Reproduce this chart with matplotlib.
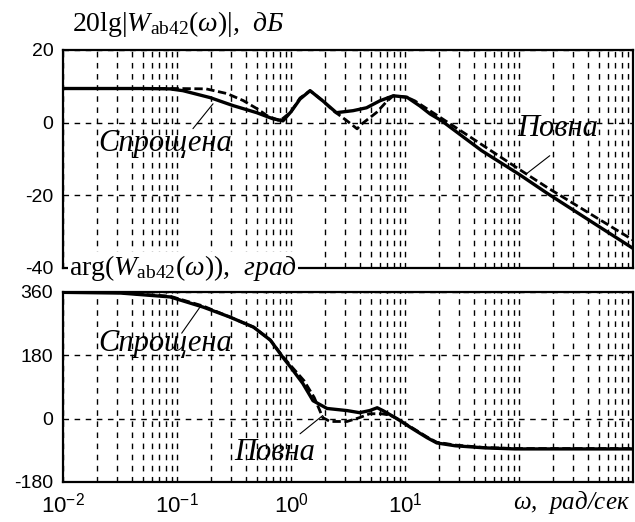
import matplotlib
matplotlib.use("Agg")
import matplotlib.pyplot as plt
from matplotlib.ticker import LogLocator, NullFormatter, FixedLocator

plt.rcParams['mathtext.fontset'] = 'custom'
plt.rcParams['mathtext.rm'] = 'Liberation Serif'
plt.rcParams['mathtext.it'] = 'Liberation Serif:italic'
plt.rcParams['mathtext.sf'] = 'Liberation Sans'
plt.rcParams['axes.unicode_minus'] = False

# amplitude, full model (solid)
w_mag_full = [0.01, 0.05, 0.087, 0.113, 0.195, 0.31, 0.5, 0.69, 0.85, 1.0, 1.2, 1.47,
              1.9, 2.5, 3.5, 4.6, 6.0, 7.9, 10.4, 13.5, 16.6, 21, 47, 100, 178, 1000]
db_full = [9.4, 9.4, 9.3, 8.8, 6.9, 4.7, 2.75, 1.1, 0.5, 3.0, 6.5, 8.8,
           6.0, 2.75, 3.3, 4.1, 6.0, 7.4, 7.0, 4.6, 2.4, 0.5, -7.7, -14.2, -19.5, -34.6]

# amplitude, simplified model (dashed)
w_mag_simp = [0.01, 0.05, 0.1, 0.18, 0.275, 0.38, 0.5, 0.62, 0.8, 1.0, 1.2, 1.47,
              1.9, 2.35, 3.1, 3.8, 4.2, 5.6, 7.0, 7.9, 10.4, 12.2, 33.6, 100, 178, 1000]
db_simp = [9.4, 9.4, 9.4, 9.3, 8.0, 6.1, 3.9, 1.9, 0.5, 3.0, 6.8, 8.8,
           6.0, 3.3, 0.5, -1.7, -0.3, 2.75, 6.0, 7.4, 7.0, 6.0, -3.0, -12.8, -17.9, -32.3]

# phase, full model (solid)
w_ph_full = [0.01, 0.032, 0.087, 0.17, 0.29, 0.47, 0.66, 0.85, 1.0, 1.27, 1.56, 2.07,
             3.1, 4.0, 4.9, 5.7, 6.4, 8.5, 11.7, 15.6, 19, 27.5, 50, 92, 1000]
deg_full = [359, 357, 346, 317, 289, 260, 223, 174, 145, 100, 51, 29,
            23, 17, 23, 31, 23, 0, -29, -54, -69, -77, -83, -86, -86]

# phase, simplified model (dashed)
w_ph_simp = [0.01, 0.032, 0.087, 0.17, 0.29, 0.47, 0.66, 0.85, 1.0, 1.3, 1.6, 1.9, 2.2,
             3.1, 4.0, 4.9, 6.2, 7.4, 8.5, 11.7, 15.6, 19, 27.5, 50, 92, 1000]
deg_simp = [360, 358, 348, 320, 289, 260, 223, 176, 150, 108, 60, 3, -8,
            -8, 3, 14, 14, 10, 0, -27, -52, -67, -75, -82, -85, -85]

xtick_vals = [0.01, 0.1, 1, 10, 100, 1000]
xtick_labels = [r'$\mathsf{10}^{\mathsf{-2}}$', r'$\mathsf{10}^{\mathsf{-1}}$',
                r'$\mathsf{10}^{\mathsf{0}}$', r'$\mathsf{10}^{\mathsf{1}}$', '', '']
mag_ticks = [-40, -20, 0, 20]
ph_ticks = [-180, 0, 180, 360]

fig = plt.figure(figsize=(6.35, 5.22), dpi=100)
ax1 = fig.add_axes([63/635, (522-268)/522, 570/635, 218/522])
ax2 = fig.add_axes([63/635, (522-482)/522, 570/635, 190/522])

grid_style = dict(color='black', linestyle=(0, (4, 4)), linewidth=1.0)

for ax in (ax1, ax2):
    ax.set_xscale('log')
    ax.set_xlim(0.01, 1000)
    ax.xaxis.set_major_locator(FixedLocator(xtick_vals))
    ax.xaxis.set_minor_locator(LogLocator(base=10, subs=range(2, 10), numticks=20))
    ax.xaxis.set_minor_formatter(NullFormatter())
    ax.grid(True, which='both', axis='x', **grid_style)
    ax.grid(True, which='major', axis='y', **grid_style)
    ax.tick_params(which='both', length=0)
    ax.tick_params(axis='y', labelsize=14, pad=7)
    for s in ax.spines.values():
        s.set_linewidth(1.6)
    ax.set_axisbelow(True)

ax1.plot(w_mag_full, db_full, color='black', lw=2.4, solid_joinstyle='round')
ax1.plot(w_mag_simp, db_simp, color='black', lw=2.0, linestyle=(0, (3, 1.3)))
ax1.set_ylim(-40, 20)
ax1.set_yticks(mag_ticks)
ax1.set_xticklabels([])

ax2.plot(w_ph_full, deg_full, color='black', lw=2.4, solid_joinstyle='round')
ax2.plot(w_ph_simp, deg_simp, color='black', lw=2.0, linestyle=(0, (3, 1.3)))
ax2.set_ylim(-180, 360)
ax2.set_yticks(ph_ticks)
ax2.set_xticklabels(xtick_labels, fontsize=16)
ax2.tick_params(axis='x', pad=7)

for ax in (ax1, ax2):
    for lab in ax.get_yticklabels():
        lab.set_family('Liberation Sans')

ann_font = dict(family='Liberation Serif', fontstyle='italic', fontsize=22)
line_props = dict(arrowstyle='-', color='black', lw=0.8, shrinkA=0, shrinkB=0)

ax1.text(0.0785, -5.8, 'Спрощена', ha='center', va='center', **ann_font)
ax1.annotate('', xy=(0.207, 5.2), xytext=(0.138, -1.65), arrowprops=line_props)
ax1.text(220, -1.65, 'Повна', ha='center', va='center', **ann_font)
ax1.annotate('', xy=(117, -14), xytext=(186, -9.1), arrowprops=line_props)

ax2.text(0.0785, 214, 'Спрощена', ha='center', va='center', **ann_font)
ax2.annotate('', xy=(0.159, 317), xytext=(0.11, 243), arrowprops=line_props)
ax2.text(0.72, -97, 'Повна', ha='center', va='center', **ann_font)
ax2.annotate('', xy=(1.9, 9), xytext=(1.2, -43), arrowprops=line_props)

fig.text(72/635, 1 - 24/522, r'$\mathrm{20lg}|W_{\mathrm{ab42}}(\omega)|$,  дБ',
         ha='left', va='center', fontsize=20, family='Liberation Serif', fontstyle='italic')
fig.text(69/635, 1 - 268/522, r'$\mathrm{arg}(W_{\mathrm{ab42}}(\omega))$,  град',
         ha='left', va='center', fontsize=20, family='Liberation Serif', fontstyle='italic',
         bbox=dict(facecolor='white', edgecolor='none', pad=1.0))
fig.text(630/635, 1 - 503/522, r'$\omega$,  рад/сек', ha='right', va='center',
         fontsize=18, family='Liberation Serif', fontstyle='italic')

fig.savefig('out.png', dpi=100, facecolor='white')
